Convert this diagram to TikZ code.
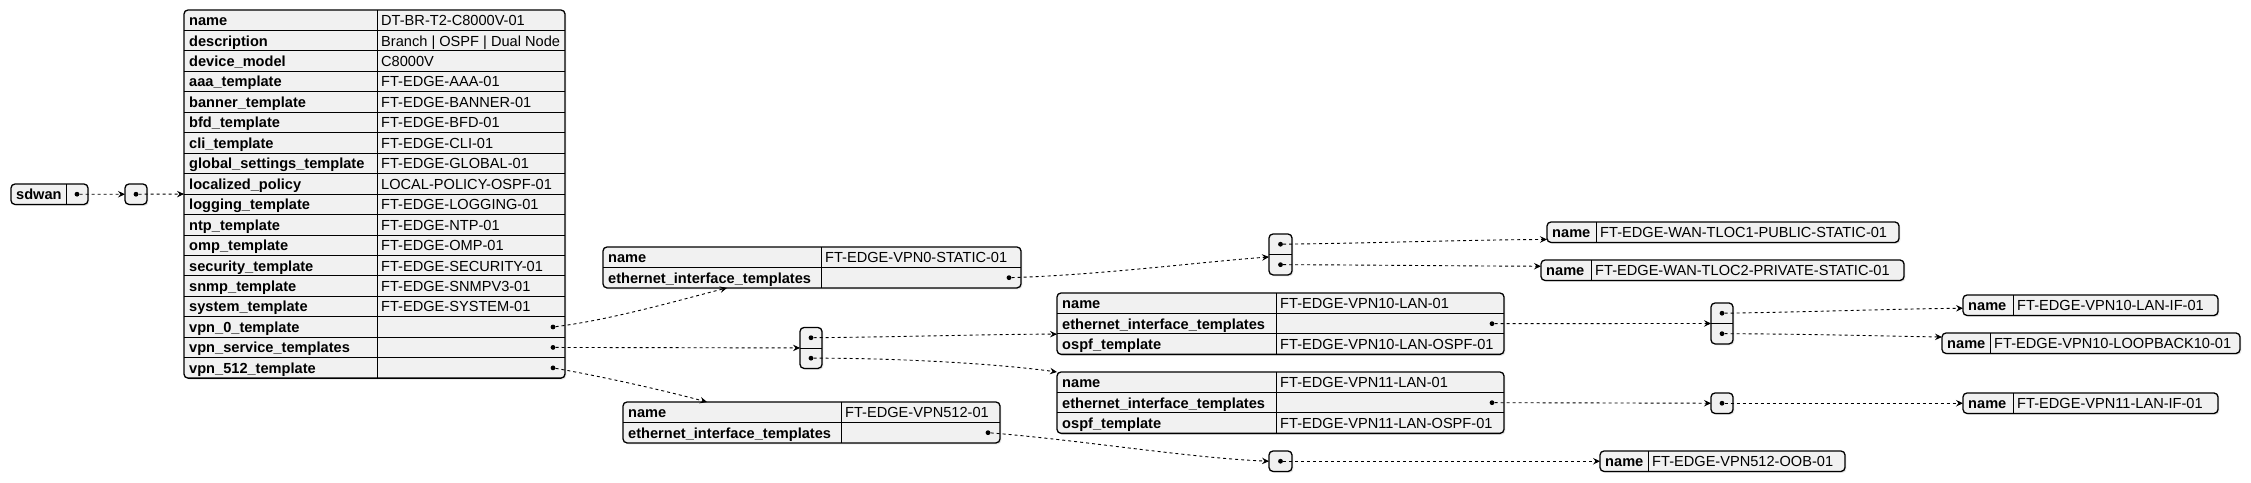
\documentclass[tikz,border=0pt]{standalone}
\usepackage{fontspec}
\setmainfont{Liberation Sans}
\usetikzlibrary{arrows.meta,calc,shadows}
\definecolor{boxfill}{HTML}{F1F1F1}
\tikzset{
 jbox/.style={draw=black, line width=1.3pt, fill=boxfill, rounded corners=4pt, inner sep=0pt, outer sep=0pt,
   drop shadow={shadow xshift=1.4pt, shadow yshift=-1.4pt, opacity=0.2}},
 cell/.style={draw=black, line width=0.9pt},
 keytxt/.style={anchor=base west, inner sep=0pt, font=\fontsize{14.6}{17}\selectfont\bfseries},
 valtxt/.style={anchor=base west, inner sep=0pt, font=\fontsize{14.6}{17}\selectfont},
 jdot/.style={circle, fill=black, inner sep=0pt, minimum size=4.8pt},
 conn/.style={draw=black, line width=0.9pt, dash pattern=on 3pt off 3pt, -{Stealth[length=7pt,width=6.5pt,inset=2.5pt]}},
}
\def\rowh{20.45}
% #1 name, #2 left, #3 top, #4 divider, #5 right, #6 rows, #7 key/value list
\newcommand{\jtab}[7]{%
  \pgfmathsetmacro\jbot{#3+#6*\rowh}
  \node[jbox, anchor=north west, minimum width={(#5-#2)*1pt}, minimum height={#6*\rowh*1pt}] (#1) at (#2,#3) {};
  \draw[cell] (#4,#3) -- (#4,\jbot);
  \foreach \k/\v [count=\i] in {#7} {
    \pgfmathsetmacro\yb{#3+(\i-1)*\rowh}
    \ifnum\i>1 \draw[cell] (#2,\yb) -- (#5,\yb); \fi
    \node[keytxt] (#1-k\i) at (#2+5,\yb+15.6) {\k};
    \node[valtxt] (#1-v\i) at (#4+4,\yb+15.6) {\v};
  }
}
% #1 name, #2 left, #3 top, #4 right, #5 rows
\newcommand{\jarr}[5]{%
  \node[jbox, anchor=north west, minimum width={(#4-#2)*1pt}, minimum height={#5*\rowh*1pt}] (#1) at (#2,#3) {};
  \foreach \i in {1,...,#5} {
    \pgfmathsetmacro\yb{#3+(\i-1)*\rowh}
    \ifnum\i>1 \draw[cell] (#2,\yb) -- (#4,\yb); \fi
    \node[jdot] (#1-d\i) at ({(#2+#4)/2},\yb+\rowh/2) {};
  }
}
\begin{document}
\begin{tikzpicture}[x=1pt,y=-1pt]
\useasboundingbox (0,0) rectangle (2251,482);

% root
\jtab{sdwan}{11}{184}{66}{88}{1}{sdwan/\relax}
\node[jdot] (sdwan-d) at (77,194.2) {};
\jarr{arr0}{125}{184}{147}{1}

% main table
\jtab{main}{184}{10}{377}{565}{18}{name/DT-BR-T2-C8000V-01,
 description/Branch | OSPF | Dual Node,
 device\_model/C8000V,
 aaa\_template/FT-EDGE-AAA-01,
 banner\_template/FT-EDGE-BANNER-01,
 bfd\_template/FT-EDGE-BFD-01,
 cli\_template/FT-EDGE-CLI-01,
 global\_settings\_template/FT-EDGE-GLOBAL-01,
 localized\_policy/LOCAL-POLICY-OSPF-01,
 logging\_template/FT-EDGE-LOGGING-01,
 ntp\_template/FT-EDGE-NTP-01,
 omp\_template/FT-EDGE-OMP-01,
 security\_template/FT-EDGE-SECURITY-01,
 snmp\_template/FT-EDGE-SNMPV3-01,
 system\_template/FT-EDGE-SYSTEM-01,
 vpn\_0\_template/\relax,
 vpn\_service\_templates/\relax,
 vpn\_512\_template/\relax}
\node[jdot] (main-d16) at (553,{10+15.5*\rowh}) {};
\node[jdot] (main-d17) at (553,{10+16.5*\rowh}) {};
\node[jdot] (main-d18) at (553,{10+17.5*\rowh}) {};

% VPN 0
\jtab{vpn0}{603}{247}{821}{1021}{2}{name/FT-EDGE-VPN0-STATIC-01, ethernet\_interface\_templates/\relax}
\node[jdot] (vpn0-d) at (1009,{247+1.5*\rowh}) {};
\jarr{arr1}{1269}{234}{1292}{2}
\jtab{tloc1}{1547}{222}{1596}{1899}{1}{name/FT-EDGE-WAN-TLOC1-PUBLIC-STATIC-01}
\jtab{tloc2}{1541}{260}{1591}{1904}{1}{name/FT-EDGE-WAN-TLOC2-PRIVATE-STATIC-01}

% service VPNs
\jarr{arr2}{800}{327.5}{822}{2}
\jtab{vpn10}{1057}{293}{1276}{1504}{3}{name/FT-EDGE-VPN10-LAN-01, ethernet\_interface\_templates/\relax, ospf\_template/FT-EDGE-VPN10-LAN-OSPF-01}
\node[jdot] (vpn10-d) at (1492,{293+1.5*\rowh}) {};
\jtab{vpn11}{1057}{372}{1276}{1504}{3}{name/FT-EDGE-VPN11-LAN-01, ethernet\_interface\_templates/\relax, ospf\_template/FT-EDGE-VPN11-LAN-OSPF-01}
\node[jdot] (vpn11-d) at (1492,{372+1.5*\rowh}) {};
\jarr{arr3}{1711}{303}{1733}{2}
\jarr{arr4}{1711}{393}{1733}{1}
\jtab{lanif10}{1963}{295}{2013}{2218}{1}{name/FT-EDGE-VPN10-LAN-IF-01}
\jtab{lb10}{1942}{333}{1990}{2240}{1}{name/FT-EDGE-VPN10-LOOPBACK10-01}
\jtab{lanif11}{1963}{393}{2013}{2218}{1}{name/FT-EDGE-VPN11-LAN-IF-01}

% VPN 512
\jtab{vpn512}{623}{402}{841}{1000}{2}{name/FT-EDGE-VPN512-01, ethernet\_interface\_templates/\relax}
\node[jdot] (vpn512-d) at (988,{402+1.5*\rowh}) {};
\jarr{arr5}{1269}{451}{1292}{1}
\jtab{oob}{1600}{451}{1648}{1845}{1}{name/FT-EDGE-VPN512-OOB-01}

% connectors
\draw[conn] (sdwan-d) -- (arr0.west);
\draw[conn] (arr0-d1) -- (main.west);
\draw[conn] (main-d16) .. controls (610,320) and (680,300) .. ($(vpn0.south west)+(124,0)$);
\draw[conn] (main-d17) -- (arr2.west);
\draw[conn] (main-d18) .. controls (610,378) and (670,392) .. ($(vpn512.north west)+(84,0)$);
\draw[conn] (vpn0-d) .. controls (1100,275) and (1200,262) .. ($(arr1.west)+(0,2.5)$);
\draw[conn] (arr1-d1) .. controls (1380,243) and (1460,240) .. ($(tloc1.south west)+(0,-3)$);
\draw[conn] (arr1-d2) .. controls (1380,265) and (1460,266) .. ($(tloc2.west)+(0,-4)$);
\draw[conn] (arr2-d1) .. controls (900,337) and (1000,334) .. ($(vpn10.west)+(0,10.5)$);
\draw[conn] (arr2-d2) .. controls (900,358) and (1000,364) .. (vpn11.north west);
\draw[conn] (vpn10-d) -- (arr3.west);
\draw[conn] (vpn11-d) -- (arr4.west);
\draw[conn] (arr3-d1) .. controls (1810,312) and (1890,309) .. ($(lanif10.west)+(0,3)$);
\draw[conn] (arr3-d2) .. controls (1810,334) and (1880,336) .. ($(lb10.north west)+(0,4)$);
\draw[conn] (arr4-d1) -- (lanif11.west);
\draw[conn] (vpn512-d) .. controls (1080,440) and (1190,458) .. (arr5.west);
\draw[conn] (arr5-d1) -- (oob.west);
\end{tikzpicture}
\end{document}
